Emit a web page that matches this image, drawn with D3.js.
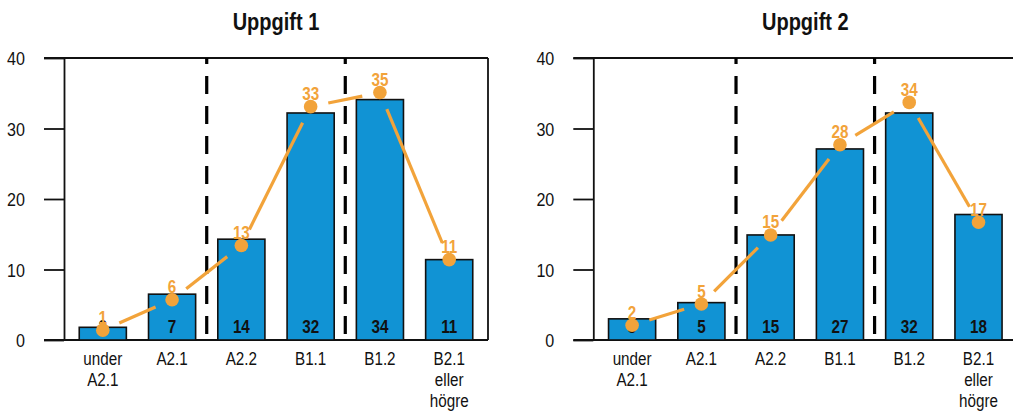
<!DOCTYPE html>
<html>
<head>
<meta charset="utf-8">
<script src="https://cdn.jsdelivr.net/npm/d3@7"></script>
<style>
  html, body { margin: 0; padding: 0; background: #fff; }
  svg { display: block; font-family: "Liberation Sans", Arial, sans-serif; }
</style>
</head>
<body>
<svg id="chart" width="1013" height="413"></svg>
<script>
// ---- data ----
const categories = ["under A2.1", "A2.1", "A2.2", "B1.1", "B1.2", "B2.1 eller högre"];
const categoryLines = [["under", "A2.1"], ["A2.1"], ["A2.2"], ["B1.1"], ["B1.2"], ["B2.1", "eller", "högre"]];
const titles = ["Uppgift 1", "Uppgift 2"];
const bars1 = [1.8, 6.5, 14.3, 32.2, 34.1, 11.4];
const line1 = [1.4, 5.7, 13.4, 33.1, 35.1, 11.4];
const bars2 = [3.0, 5.3, 14.9, 27.1, 32.2, 17.8];
const line2 = [2.1, 5.1, 14.9, 27.7, 33.7, 16.7];
const yTicks = [0, 10, 20, 30, 40];
const dividersAfter = ["A2.1", "B1.1"];

// ---- styles ----
const BLUE = "#1193d4";
const ORANGE = "#f2a33a";
const SX = 0.87;

const svg = d3.select("#chart");

const panels = [
  { title: titles[0], bars: bars1, line: line1, dx: 0 },
  { title: titles[1], bars: bars2, line: line2, dx: 529.3 }
];

const plotL = 64, plotR = 488, plotT = 58, plotB = 340;

const x = d3.scaleBand().domain(categories).range([plotL, plotR]).paddingInner(0.32).paddingOuter(0.22);
const y = d3.scaleLinear().domain([0, 40]).range([plotB, plotT]);

panels.forEach(p => {
  const g = svg.append("g").attr("transform", `translate(${p.dx},0)`);

  // title
  g.append("text")
    .attr("transform", `translate(${(plotL + plotR) / 2},29.5) scale(${SX},1)`)
    .attr("text-anchor", "middle")
    .attr("font-weight", "bold")
    .attr("font-size", 23)
    .attr("fill", "#111")
    .text(p.title);

  // y axis
  const yAxis = d3.axisLeft(y).tickValues(yTicks).tickSize(20).tickSizeOuter(0).tickPadding(19);
  const ya = g.append("g").attr("transform", `translate(${plotL},0)`).call(yAxis);
  ya.select(".domain").attr("stroke", "#111").attr("stroke-width", 1.8);
  ya.selectAll(".tick line").attr("stroke", "#111").attr("stroke-width", 1.8);
  ya.selectAll(".tick text")
    .attr("x", null).attr("dy", null)
    .attr("transform", `translate(-39,6.5) scale(${SX},1)`)
    .attr("font-size", 18.5)
    .attr("font-family", "Liberation Sans, Arial, sans-serif")
    .attr("fill", "#111");

  // frame: top, right, bottom lines
  g.append("line").attr("x1", plotL - 20).attr("x2", plotR).attr("y1", y(40)).attr("y2", y(40))
    .attr("stroke", "#111").attr("stroke-width", 1.8);
  g.append("line").attr("x1", plotL - 20).attr("x2", plotR).attr("y1", y(0)).attr("y2", y(0))
    .attr("stroke", "#111").attr("stroke-width", 2);
  g.append("line").attr("x1", plotR).attr("x2", plotR).attr("y1", y(40)).attr("y2", y(0))
    .attr("stroke", "#111").attr("stroke-width", 1.8);

  // dividers
  dividersAfter.forEach(c => {
    const i = categories.indexOf(c);
    const xm = (x(categories[i]) + x.bandwidth() + x(categories[i + 1])) / 2;
    g.append("line").attr("x1", xm).attr("x2", xm).attr("y1", y(40)).attr("y2", y(0))
      .attr("stroke", "#000").attr("stroke-width", 3.2)
      .attr("stroke-dasharray", "18,12").attr("stroke-dashoffset", 12);
  });

  // bars
  g.selectAll("rect.bar").data(p.bars).enter().append("rect")
    .attr("class", "bar")
    .attr("x", (d, i) => x(categories[i]))
    .attr("width", x.bandwidth())
    .attr("y", d => y(d))
    .attr("height", d => y(0) - y(d))
    .attr("fill", BLUE)
    .attr("stroke", "#111").attr("stroke-width", 1.6);

  // bar labels
  g.selectAll("text.blab").data(p.bars).enter().append("text")
    .attr("class", "blab")
    .attr("transform", (d, i) => `translate(${x(categories[i]) + x.bandwidth() / 2},332.5) scale(${SX},1)`)
    .attr("text-anchor", "middle")
    .attr("font-weight", "bold")
    .attr("font-size", 17.5)
    .attr("fill", "#111")
    .text(d => Math.round(d));

  // x labels
  categoryLines.forEach((lines, i) => {
    lines.forEach((t, k) => {
      g.append("text")
        .attr("transform", `translate(${x(categories[i]) + x.bandwidth() / 2},${365 + k * 21}) scale(${SX},1)`)
        .attr("text-anchor", "middle")
        .attr("font-size", 17.5)
        .attr("fill", "#111")
        .text(t);
    });
  });

  // orange line segments (shortened at both ends)
  const pts = p.line.map((v, i) => [x(categories[i]) + x.bandwidth() / 2, y(v)]);
  const gap = 18;
  for (let i = 0; i < pts.length - 1; i++) {
    const [x0, y0] = pts[i], [x1, y1] = pts[i + 1];
    const L = Math.hypot(x1 - x0, y1 - y0);
    const ux = (x1 - x0) / L, uy = (y1 - y0) / L;
    g.append("line")
      .attr("x1", x0 + ux * gap).attr("y1", y0 + uy * gap)
      .attr("x2", x1 - ux * gap).attr("y2", y1 - uy * gap)
      .attr("stroke", ORANGE).attr("stroke-width", 3.2);
  }

  // dots
  g.selectAll("circle.dot").data(p.line).enter().append("circle")
    .attr("class", "dot")
    .attr("cx", (d, i) => x(categories[i]) + x.bandwidth() / 2)
    .attr("cy", d => y(d))
    .attr("r", 6.8)
    .attr("fill", ORANGE);

  // dot labels
  g.selectAll("text.dlab").data(p.line).enter().append("text")
    .attr("class", "dlab")
    .attr("transform", (d, i) => `translate(${x(categories[i]) + x.bandwidth() / 2},${y(d) - 6.5}) scale(${SX},1)`)
    .attr("text-anchor", "middle")
    .attr("font-weight", "bold")
    .attr("font-size", 17.5)
    .attr("fill", ORANGE)
    .text(d => Math.round(d));
});
</script>
</body>
</html>
